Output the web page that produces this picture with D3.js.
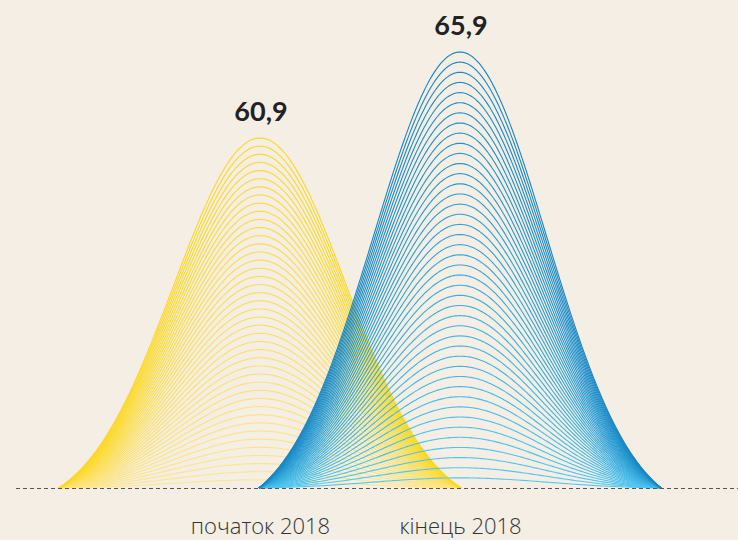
<!DOCTYPE html>
<html>
<head>
<meta charset="utf-8">
<script src="https://cdn.jsdelivr.net/npm/d3@7"></script>
<style>
  html, body { margin: 0; padding: 0; background: #f4eee5; }
  svg { display: block; }
</style>
</head>
<body>
<svg id="chart" width="738" height="540"></svg>
<script>
const categories = ["початок 2018", "кінець 2018"];
const values = [60.9, 65.9];
const valueLabels = ["60,9", "65,9"];
const lineCount = 43;
const yMin = 40.55;
const bottomColors = ["#fde68f", "#52caf3"];
const topColors = ["#fcd820", "#1686c4"];

const svg = d3.select("#chart");
const W = 738, H = 540;
const baseY = 488;

const x = d3.scalePoint().domain(categories).range([260, 460]);
const y = d3.scaleLinear().domain([yMin, 65.9]).range([baseY, 52]);
const halfW = x.step() * 1.005;

const s = 0.43;
const G = t => Math.exp(-(t * t) / (2 * s * s));
const G1 = G(1);
const bell = t => (G(t) - G1) / (1 - G1);
const ts = d3.range(-1, 1.0001, 0.01);

const line = d3.line().x(d => d[0]).y(d => d[1]);

categories.forEach((cat, i) => {
  const g = svg.append("g");
  const cx = x(cat);
  const v = values[i];
  const col = d3.interpolateRgb(bottomColors[i], topColors[i]);
  for (let k = 1; k <= lineCount; k++) {
    const f = k / lineCount;
    const pts = ts.map(t => [cx + t * halfW, y(yMin + (v - yMin) * f * bell(t))]);
    g.append("path")
      .attr("d", line(pts))
      .attr("fill", "none")
      .attr("stroke", col(f))
      .attr("stroke-width", 1.1);
  }
  svg.append("text")
    .attr("x", cx + 1)
    .attr("y", y(v) - 17)
    .attr("text-anchor", "middle")
    .attr("font-family", "Lato, 'Open Sans', sans-serif")
    .attr("font-weight", 700)
    .attr("font-size", 27)
    .attr("fill", "#222")
    .text(valueLabels[i]);
});

svg.append("line")
  .attr("x1", 16).attr("x2", W)
  .attr("y1", baseY + 0.5).attr("y2", baseY + 0.5)
  .attr("stroke", "#555")
  .attr("stroke-width", 1)
  .attr("stroke-dasharray", "4,3");

const xAxis = d3.axisBottom(x).tickSize(0).tickPadding(0);
const ax = svg.append("g").attr("transform", `translate(0,${baseY})`).call(xAxis);
ax.select(".domain").remove();
ax.selectAll("text")
  .attr("y", 46)
  .attr("dy", 0)
  .attr("font-family", "'Open Sans', sans-serif")
  .attr("font-weight", 300)
  .attr("font-size", 22)
  .attr("fill", "#333");
</script>
</body>
</html>
